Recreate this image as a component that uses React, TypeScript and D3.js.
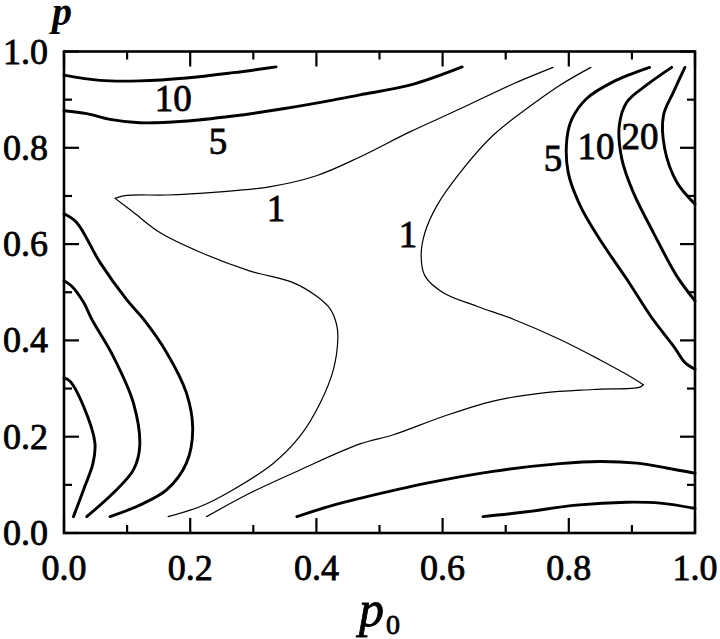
import React from 'react';
import * as d3 from 'd3';

type Pt = [number, number];

// Contour lines, as [p0, p]
const top10: Pt[] = [[0, 0.951], [0.057, 0.94], [0.12, 0.939], [0.194, 0.945], [0.268, 0.956], [0.336, 0.968]];
const top5: Pt[] = [[0, 0.877], [0.036, 0.871], [0.073, 0.859], [0.12, 0.852], [0.189, 0.855], [0.268, 0.866], [0.347, 0.881], [0.426, 0.899], [0.469, 0.91], [0.548, 0.93], [0.631, 0.968]];

const thinAUpper: Pt[] = [[0.081, 0.695], [0.099, 0.701], [0.163, 0.702], [0.242, 0.708], [0.321, 0.718], [0.4, 0.742], [0.469, 0.781], [0.548, 0.833], [0.628, 0.881], [0.707, 0.93], [0.775, 0.967]];
const thinALower: Pt[] = [[0.081, 0.695], [0.11, 0.666], [0.152, 0.624], [0.216, 0.583], [0.295, 0.544], [0.363, 0.52], [0.4, 0.492], [0.422, 0.465], [0.432, 0.433], [0.434, 0.405], [0.427, 0.34], [0.406, 0.27], [0.374, 0.201], [0.332, 0.145], [0.268, 0.09], [0.216, 0.055], [0.165, 0.034]];

const thinBUpper: Pt[] = [[0.835, 0.967], [0.786, 0.93], [0.733, 0.881], [0.68, 0.826], [0.628, 0.749], [0.591, 0.68], [0.572, 0.624], [0.566, 0.576], [0.572, 0.534], [0.601, 0.499], [0.654, 0.471], [0.712, 0.444], [0.786, 0.402], [0.849, 0.36], [0.892, 0.329], [0.918, 0.308]];
const thinBLower: Pt[] = [[0.918, 0.308], [0.913, 0.303], [0.839, 0.298], [0.76, 0.291], [0.68, 0.274], [0.601, 0.242], [0.522, 0.204], [0.469, 0.185], [0.374, 0.131], [0.295, 0.083], [0.226, 0.034]];

const left5: Pt[] = [[0, 0.663], [0.02, 0.645], [0.057, 0.562], [0.099, 0.485], [0.126, 0.444], [0.163, 0.374], [0.194, 0.291], [0.204, 0.215], [0.194, 0.145], [0.163, 0.09], [0.12, 0.058], [0.073, 0.034]];
const left10: Pt[] = [[0, 0.524], [0.012, 0.513], [0.031, 0.479], [0.044, 0.444], [0.078, 0.367], [0.11, 0.27], [0.12, 0.18], [0.11, 0.131], [0.078, 0.083], [0.036, 0.034]];
const left20: Pt[] = [[0, 0.322], [0.0095, 0.315], [0.031, 0.263], [0.049, 0.187], [0.046, 0.145], [0.031, 0.09], [0.015, 0.034]];

const bottom5: Pt[] = [[0.369, 0.034], [0.427, 0.058], [0.469, 0.072], [0.575, 0.1035], [0.68, 0.128], [0.786, 0.144], [0.849, 0.1485], [0.908, 0.145], [0.955, 0.135], [1.0, 0.124]];
const bottom10: Pt[] = [[0.664, 0.034], [0.733, 0.044], [0.812, 0.058], [0.892, 0.064], [0.945, 0.062], [1.0, 0.051]];

const right5: Pt[] = [[0.928, 0.967], [0.87, 0.937], [0.828, 0.902], [0.805, 0.86], [0.797, 0.819], [0.799, 0.749], [0.818, 0.68], [0.849, 0.61], [0.892, 0.527], [0.931, 0.448], [0.966, 0.388], [0.984, 0.354], [1.0, 0.34]];
const right10: Pt[] = [[0.963, 0.967], [0.923, 0.93], [0.892, 0.895], [0.88, 0.846], [0.884, 0.777], [0.902, 0.708], [0.934, 0.624], [0.971, 0.534], [1.0, 0.482]];
const right20: Pt[] = [[0.984, 0.967], [0.966, 0.916], [0.95, 0.867], [0.952, 0.798], [0.971, 0.729], [1.0, 0.683]];

const contourLevels = [10, 5, 1, 1, 1, 1, 5, 10, 20, 5, 10, 5, 10, 20];
const contourPaths: Pt[][] = [top10, top5, thinAUpper, thinALower, thinBUpper, thinBLower, left5, left10, left20, bottom5, bottom10, right5, right10, right20];

const labelTexts = ['10', '5', '1', '1', '5', '10', '20'];
const labelP0 = [0.173, 0.244, 0.336, 0.545, 0.775, 0.843, 0.913];
const labelP = [0.902, 0.8125, 0.673, 0.619, 0.777, 0.802, 0.823];

const majorTicks = [0, 0.2, 0.4, 0.6, 0.8, 1.0];
const minorTicks = [0.1, 0.3, 0.5, 0.7, 0.9];
const tickLabels = ['0.0', '0.2', '0.4', '0.6', '0.8', '1.0'];

const W = 720;
const H = 639;
const L = 64, R = 695, T = 51.5, B = 533;

export default function App() {
  const x = d3.scaleLinear().domain([0, 1]).range([L, R]);
  const y = d3.scaleLinear().domain([0, 1]).range([B, T]);
  const line = d3.line<Pt>().x(d => x(d[0])).y(d => y(d[1])).curve(d3.curveCatmullRom.alpha(0.5));
  const serif: React.CSSProperties = { fontFamily: "'Liberation Serif', 'DejaVu Serif', serif" };
  const majLen = 15, minLen = 8;
  const tickW = 2.2;
  const heavy = { stroke: '#000', strokeWidth: 0.8 };

  return (
    <svg width={W} height={H} style={{ position: 'absolute', left: 0, top: 0, background: '#fff' }}>
      <rect x={0} y={0} width={W} height={H} fill="#fff" />
      {contourPaths.map((pts, i) => (
        <path key={i} d={line(pts) || ''} fill="none" stroke="#000"
          strokeWidth={contourLevels[i] === 1 ? 1.2 : 2.9} strokeLinecap="round" strokeLinejoin="round" />
      ))}
      {labelTexts.map((t, i) => (
        <text key={i} x={x(labelP0[i])} y={y(labelP[i]) + 12} fontSize={37} textAnchor="middle" style={serif} {...heavy}>{t}</text>
      ))}
      {majorTicks.map((v, i) => (
        <g key={'M' + i} stroke="#000" strokeWidth={tickW}>
          <line x1={x(v)} x2={x(v)} y1={B} y2={B - majLen} />
          <line x1={x(v)} x2={x(v)} y1={T} y2={T + majLen} />
          <line x1={L} x2={L + majLen} y1={y(v)} y2={y(v)} />
          <line x1={R} x2={R - majLen} y1={y(v)} y2={y(v)} />
        </g>
      ))}
      {minorTicks.map((v, i) => (
        <g key={'m' + i} stroke="#000" strokeWidth={tickW}>
          <line x1={x(v)} x2={x(v)} y1={B} y2={B - minLen} />
          <line x1={x(v)} x2={x(v)} y1={T} y2={T + minLen} />
          <line x1={L} x2={L + minLen} y1={y(v)} y2={y(v)} />
          <line x1={R} x2={R - minLen} y1={y(v)} y2={y(v)} />
        </g>
      ))}
      <rect x={L} y={T} width={R - L} height={B - T} fill="none" stroke="#000" strokeWidth={2.6} />
      {majorTicks.map((v, i) => (
        <text key={'xl' + i} x={x(v)} y={580} fontSize={36} textAnchor="middle" style={serif} {...heavy}>{tickLabels[i]}</text>
      ))}
      {majorTicks.map((v, i) => (
        <text key={'yl' + i} x={48} y={y(v) + 12} fontSize={36} textAnchor="end" style={serif} {...heavy}>{tickLabels[i]}</text>
      ))}
      <text x={52} y={25} fontSize={40} fontStyle="italic" fontWeight="bold" style={serif}>p</text>
      <text x={359} y={626} fontSize={50} fontStyle="italic" style={serif} {...heavy}>p</text>
      <text x={386} y={634} fontSize={28} style={serif} {...heavy}>0</text>
    </svg>
  );
}
